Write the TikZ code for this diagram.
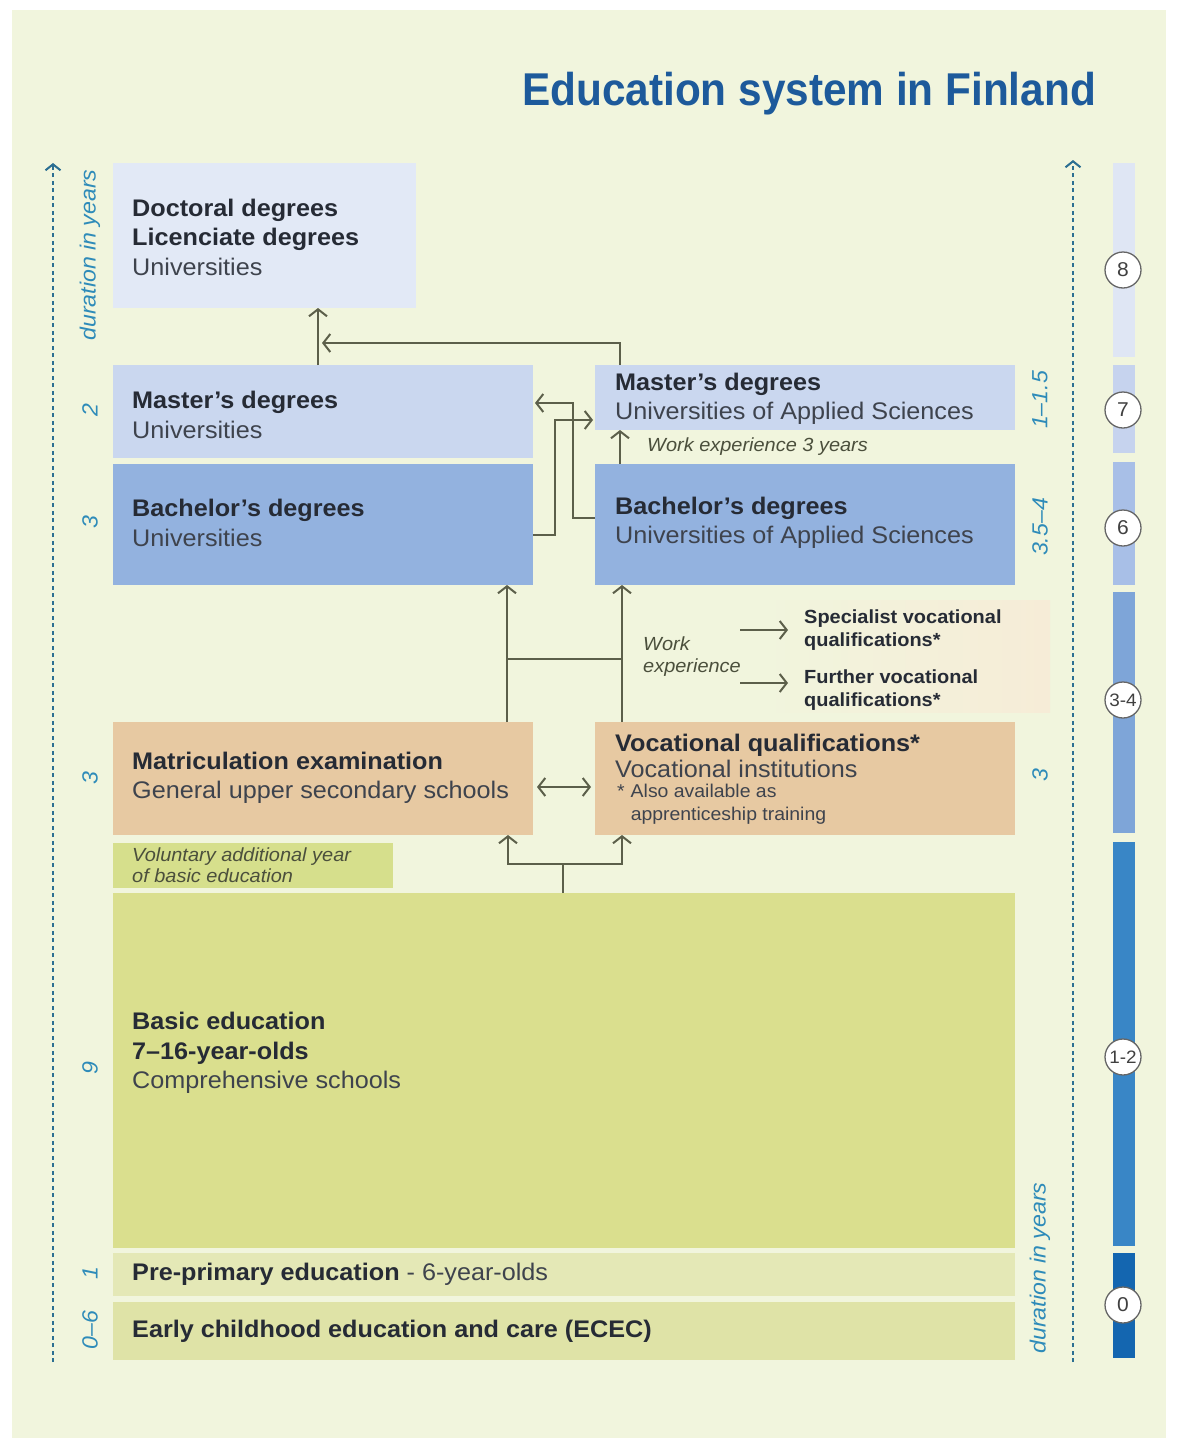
\documentclass[tikz,border=0pt]{standalone}
\usepackage{fontspec}
\setmainfont{Liberation Sans}[FakeStretch=1.05]
\newfontfamily\titlefont{Liberation Sans}[FakeStretch=0.92]
\usetikzlibrary{arrows.meta}
\definecolor{bgc}{HTML}{F1F5DD}
\definecolor{titleblue}{HTML}{1D5A9B}
\definecolor{axcol}{HTML}{2C6F92}
\definecolor{axtext}{HTML}{2E8BB9}
\definecolor{conncol}{HTML}{5C5F4A}
\definecolor{txtb}{HTML}{262B35}
\definecolor{txtr}{HTML}{3E434D}
\definecolor{olivetxt}{HTML}{4B4F3C}
\definecolor{docfill}{HTML}{E2E9F6}
\definecolor{masterfill}{HTML}{CAD7EF}
\definecolor{bachfill}{HTML}{93B2DF}
\definecolor{matricfill}{HTML}{E7C9A2}
\definecolor{volfill}{HTML}{D6DF8C}
\definecolor{basicfill}{HTML}{DADF8E}
\definecolor{prefill}{HTML}{E4E8B6}
\definecolor{ececfill}{HTML}{DFE3A7}
\definecolor{peachfaint}{HTML}{F6ECD7}
\definecolor{barA}{HTML}{DFE6F4}
\definecolor{barB}{HTML}{C6D3EE}
\definecolor{barC}{HTML}{A8BFE7}
\definecolor{barD}{HTML}{7EA5D8}
\definecolor{barE}{HTML}{3986C6}
\definecolor{barF}{HTML}{1466B0}
\begin{document}
\begin{tikzpicture}[x=1pt,y=-1pt,
  ebox/.style={draw=none, inner sep=0pt, outer sep=0pt, anchor=north west},
  lbl/.style={anchor=west, inner sep=0pt, align=left, text=txtr,
    font=\fontsize{24}{29.5}\selectfont},
  small/.style={anchor=west, inner sep=0pt, align=left, text=olivetxt,
    font=\fontsize{19}{22}\selectfont\itshape},
  smallb/.style={anchor=west, inner sep=0pt, align=left, text=txtb,
    font=\fontsize{19}{23}\selectfont\bfseries},
  conn/.style={draw=conncol, line width=2pt,
    -{Straight Barb[length=7pt,width=18pt,line width=2pt]}},
  connboth/.style={draw=conncol, line width=2pt,
    {Straight Barb[length=7pt,width=18pt,line width=2pt]}-{Straight Barb[length=7pt,width=18pt,line width=2pt]}},
  connplain/.style={draw=conncol, line width=2pt},
  axisline/.style={draw=axcol, line width=2.2pt, dash pattern=on 4pt off 3.5pt,
    -{Straight Barb[length=6pt,width=15pt,line width=2pt]}},
  ylbl/.style={rotate=90, inner sep=0pt, text=axtext,
    font=\fontsize{22}{22}\selectfont\itshape},
  circ/.style={circle, draw=black!60, fill=white, line width=1.3pt,
    minimum size=36pt, inner sep=0pt, text=black!75,
    font=\fontsize{20}{20}\selectfont}
]
\useasboundingbox (0,0) rectangle (1176,1438);
\fill[white] (0,0) rectangle (1176,1438);
\fill[bgc] (12,10) rectangle (1166,1438);

% title
\node[anchor=base west, inner sep=0pt, text=titleblue,
  font=\titlefont\fontsize{46}{46}\selectfont\bfseries] (title) at (522,105)
  {Education system in Finland};

% faint peach area
\shade[left color=bgc, right color=peachfaint] (760,600) rectangle (1050,712);

% boxes
\node[ebox, fill=docfill, minimum width=303pt, minimum height=145pt] (doc) at (113,163) {};
\node[ebox, fill=masterfill, minimum width=420pt, minimum height=93pt] (mu) at (113,365) {};
\node[ebox, fill=bachfill, minimum width=420pt, minimum height=121pt] (bu) at (113,464) {};
\node[ebox, fill=masterfill, minimum width=420pt, minimum height=65pt] (mua) at (595,365) {};
\node[ebox, fill=bachfill, minimum width=420pt, minimum height=121pt] (bua) at (595,464) {};
\node[ebox, fill=matricfill, minimum width=420pt, minimum height=113pt] (matric) at (113,722) {};
\node[ebox, fill=matricfill, minimum width=420pt, minimum height=113pt] (voc) at (595,722) {};
\node[ebox, fill=volfill, minimum width=280pt, minimum height=45pt] (vol) at (113,843) {};
\node[ebox, fill=basicfill, minimum width=902pt, minimum height=355pt] (basic) at (113,893) {};
\node[ebox, fill=prefill, minimum width=902pt, minimum height=43pt] (pre) at (113,1253) {};
\node[ebox, fill=ececfill, minimum width=902pt, minimum height=58pt] (ecec) at (113,1302) {};

% texts
\node[lbl] (tdoc) at (132,237) {\textcolor{txtb}{\bfseries Doctoral degrees}\\\textcolor{txtb}{\bfseries Licenciate degrees}\\Universities};
\node[lbl] (tmu) at (132,415) {\textcolor{txtb}{\bfseries Master’s degrees}\\Universities};
\node[lbl] (tbu) at (132,523) {\textcolor{txtb}{\bfseries Bachelor’s degrees}\\Universities};
\node[lbl] (tmua) at (615,399) {\textcolor{txtb}{\bfseries Master’s degrees}\\Universities of Applied Sciences};
\node[lbl] (tbua) at (615,523) {\textcolor{txtb}{\bfseries Bachelor’s degrees}\\Universities of Applied Sciences};
\node[small] (twe) at (647,447) {Work experience 3 years};
\node[lbl] (tmatric) at (132,778) {\textcolor{txtb}{\bfseries Matriculation examination}\\General upper secondary schools};
\node[lbl, font=\fontsize{24}{26}\selectfont] (tvoc) at (615,756) {\textcolor{txtb}{\bfseries Vocational qualifications*}\\Vocational institutions};
\node[anchor=west, inner sep=0pt, align=left, text=txtr, font=\fontsize{18.5}{23}\selectfont] (tvocn) at (617,804) {*\hspace{6pt}Also available as\\\hphantom{*\hspace{6pt}}apprenticeship training};
\node[small] (twork) at (643,657) {\fontsize{19}{27}\selectfont Work\\experience};
\node[smallb] (spec) at (804,630) {Specialist vocational\\qualifications*};
\node[smallb] (furt) at (804,690) {Further vocational\\qualifications*};
\node[small, font=\fontsize{19}{21}\selectfont\itshape] (tvol) at (132,865) {Voluntary additional year\\of basic education};
\node[lbl] (tbasic) at (132,1053) {\textcolor{txtb}{\bfseries Basic education}\\\textcolor{txtb}{\bfseries 7–16-year-olds}\\Comprehensive schools};
\node[lbl] (tpre) at (132,1274) {\textcolor{txtb}{\bfseries Pre-primary education} - 6-year-olds};
\node[lbl, text=txtb] (tecec) at (132,1331) {\bfseries Early childhood education and care (ECEC)};

% connector coordinates
\coordinate (xa) at (318,0);
\coordinate (xb) at (620,0);
\coordinate (j1) at (322,343);
\coordinate (b1) at (573,518);
\coordinate (b2) at (573,403);
\coordinate (b3) at (555,535);
\coordinate (b4) at (555,420);
\coordinate (b7) at (507,659);
\coordinate (b8) at (622,659);
\coordinate (b9) at (0,787);
\coordinate (b10) at (563,864);
\coordinate (b11) at (508,864);
\coordinate (b12) at (622,864);
\coordinate (w1) at (740,630);
\coordinate (w1e) at (788,630);
\coordinate (w2) at (740,683);
\coordinate (w2e) at (788,683);

% connectors
\draw[conn] (mu.north -| xa) -- (doc.south -| xa);
\draw[conn] (mua.north -| xb) |- (j1);
\draw[conn] (bua.north -| xb) -- (mua.south -| xb);
\draw[conn, shorten >=2pt] (b1 -| bua.west) -- (b1) -- (b2) -- (b2 -| mu.east);
\draw[conn, shorten >=2pt] (b3 -| bu.east) -- (b3) -- (b4) -- (b4 -| mua.west);
\draw[conn] (matric.north -| b7) -- (bu.south -| b7);
\draw[conn] (voc.north -| b8) -- (bua.south -| b8);
\draw[connplain] (b7) -- (b8);
\draw[connboth, shorten <=4pt, shorten >=4pt] (matric.east |- b9) -- (voc.west |- b9);
\draw[connplain] (basic.north -| b10) -- (b10);
\draw[conn] (b10) -- (b11) -- (matric.south -| b11);
\draw[conn] (b10) -- (b12) -- (voc.south -| b12);
\draw[conn] (w1) -- (w1e);
\draw[conn] (w2) -- (w2e);

% axes
\coordinate (la0) at (53,1362);
\coordinate (la1) at (53,163);
\coordinate (ra0) at (1073,1362);
\coordinate (ra1) at (1073,160);
\draw[axisline] (la0) -- (la1);
\draw[axisline] (ra0) -- (ra1);

% axis labels
\node[ylbl] (l0) at (90,255) {duration in years};
\node[ylbl] (l1) at (90,410) {2};
\node[ylbl] (l2) at (90,522) {3};
\node[ylbl] (l3) at (90,778) {3};
\node[ylbl] (l4) at (90,1068) {9};
\node[ylbl] (l5) at (90,1273) {1};
\node[ylbl] (l6) at (90,1330) {0–6};
\node[ylbl] (r1) at (1040,400) {1–1.5};
\node[ylbl] (r2) at (1040,527) {3.5–4};
\node[ylbl] (r3) at (1040,775) {3};
\node[ylbl] (r4) at (1040,1268) {duration in years};

% right bar
\fill[barA] (1113,163) rectangle (1135,357);
\fill[barB] (1113,365) rectangle (1135,453);
\fill[barC] (1113,462) rectangle (1135,585);
\fill[barD] (1113,592) rectangle (1135,833);
\fill[barE] (1113,842) rectangle (1135,1246);
\fill[barF] (1113,1253) rectangle (1135,1358);
\node[circ] (c8) at (1123,270) {8};
\node[circ] (c7) at (1123,410) {7};
\node[circ] (c6) at (1123,528) {6};
\node[circ, font=\fontsize{18}{18}\selectfont] (c34) at (1123,700) {3-4};
\node[circ, font=\fontsize{18}{18}\selectfont] (c12) at (1123,1057) {1-2};
\node[circ] (c0) at (1123,1305) {0};
\end{tikzpicture}
\end{document}
